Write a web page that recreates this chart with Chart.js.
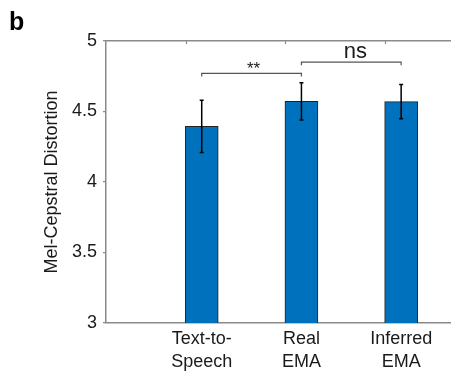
<!DOCTYPE html>
<html lang="en">
  <head>
    <meta charset="UTF-8" />
    <title>Mel-Cepstral Distortion</title>
    <script src="https://cdn.jsdelivr.net/npm/chart.js"></script>
    <style>
      html, body { margin: 0; padding: 0; background: #fff; }
      #wrap { position: relative; width: 451px; height: 374px; }
    </style>
  </head>
  <body>
    <div id="wrap"><canvas id="mcdChart"></canvas></div>

    <script>
      // data
      const categories = [["Text-to-", "Speech"], ["Real", "EMA"], ["Inferred", "EMA"]];
      const barPositions = [1, 2, 3];
      const meanValues = [4.395, 4.572, 4.570];
      const errorValues = [0.185, 0.132, 0.122];
      const yTicks = [3, 3.5, 4, 4.5, 5];
      const topTicks = [0.84, 1.84, 2.84];

      // significance brackets
      const bracketPairs = [[0, 1], [1, 2]];
      const bracketHeights = [4.77, 4.85];
      const bracketLabels = ["**", "ns"];

      const textColor = "#1a1a1a";
      const axisColor = "#8a8a8a";
      const font = "'Liberation Sans', Arial, sans-serif";

      // error bars, brackets, inner top ticks and panel letter
      const extrasPlugin = {
        id: "extras",
        afterDatasetsDraw(chart) {
          const ctx = chart.ctx;
          const x = chart.scales.x;
          const y = chart.scales.y;
          const area = chart.chartArea;
          ctx.save();

          // error bars
          ctx.strokeStyle = "#000";
          ctx.lineWidth = 1.5;
          barPositions.forEach((p, i) => {
            const px = x.getPixelForValue(p);
            const top = y.getPixelForValue(meanValues[i] + errorValues[i]);
            const bot = y.getPixelForValue(meanValues[i] - errorValues[i]);
            ctx.beginPath();
            ctx.moveTo(px, top);
            ctx.lineTo(px, bot);
            ctx.moveTo(px - 2, top);
            ctx.lineTo(px + 2, top);
            ctx.moveTo(px - 2, bot);
            ctx.lineTo(px + 2, bot);
            ctx.stroke();
          });

          // brackets
          ctx.strokeStyle = "#555";
          ctx.lineWidth = 1.2;
          ctx.fillStyle = textColor;
          ctx.textAlign = "center";
          bracketPairs.forEach((pair, i) => {
            const x1 = x.getPixelForValue(barPositions[pair[0]]);
            const x2 = x.getPixelForValue(barPositions[pair[1]]);
            const by = y.getPixelForValue(bracketHeights[i]);
            ctx.beginPath();
            ctx.moveTo(x1, by + 3);
            ctx.lineTo(x1, by);
            ctx.lineTo(x2, by);
            ctx.lineTo(x2, by + 3);
            ctx.stroke();
            if (bracketLabels[i] === "**") {
              ctx.font = "17px " + font;
              ctx.textBaseline = "middle";
              ctx.fillText(bracketLabels[i], (x1 + x2) / 2 + 2, by - 4);
            } else {
              ctx.font = "22px " + font;
              ctx.textBaseline = "alphabetic";
              ctx.fillText(bracketLabels[i], (x1 + x2) / 2 + 4, by - 4);
            }
          });

          // inner ticks on the top border
          ctx.strokeStyle = axisColor;
          ctx.lineWidth = 1.2;
          topTicks.forEach((t) => {
            const px = Math.round(x.getPixelForValue(t)) + 0.5;
            ctx.beginPath();
            ctx.moveTo(px, area.top);
            ctx.lineTo(px, area.top + 3);
            ctx.stroke();
          });

          // panel letter
          ctx.fillStyle = "#000";
          ctx.font = "bold 25px " + font;
          ctx.textAlign = "left";
          ctx.textBaseline = "alphabetic";
          ctx.fillText("b", 9, 30);
          ctx.restore();
        },
      };

      const chart = new Chart(document.getElementById("mcdChart"), {
        type: "bar",
        data: {
          datasets: [
            {
              data: barPositions.map((p, i) => ({ x: p, y: meanValues[i] })),
              backgroundColor: "#0072BD",
              borderColor: "#222",
              borderWidth: 1,
              barThickness: 33,
            },
          ],
        },
        options: {
          responsive: true,
          maintainAspectRatio: false,
          animation: false,
          layout: { padding: { top: 41, left: 0, right: 0, bottom: 0 } },
          plugins: {
            legend: { display: false },
            tooltip: { enabled: false },
          },
          scales: {
            x: {
              type: "linear",
              position: "bottom",
              min: 0.04,
              max: 3.5,
              offset: false,
              afterBuildTicks: (scale) => {
                scale.ticks = barPositions.map((v) => ({ value: v }));
              },
              afterFit: (scale) => {
                scale.height = 51;
              },
              grid: { display: false, drawTicks: false },
              border: { display: true, color: axisColor, width: 1.5 },
              ticks: {
                color: textColor,
                font: { family: font, size: 18, lineHeight: 1.3 },
                padding: 4,
                maxRotation: 0,
                autoSkip: false,
                callback: (v, i) => categories[i],
              },
            },
            xTop: {
              type: "linear",
              position: "top",
              min: 0.04,
              max: 3.5,
              afterFit: (scale) => {
                scale.height = 0;
              },
              grid: { display: false, drawTicks: false },
              border: { display: true, color: axisColor, width: 1.5 },
              ticks: { display: false },
            },
            y: {
              min: 3,
              max: 5,
              afterBuildTicks: (scale) => {
                scale.ticks = yTicks.map((v) => ({ value: v }));
              },
              afterFit: (scale) => {
                scale.width = 106;
              },
              grid: {
                drawOnChartArea: false,
                drawTicks: true,
                tickLength: 3,
                color: axisColor,
                lineWidth: 1.2,
              },
              border: { display: true, color: axisColor, width: 1.5 },
              ticks: {
                color: textColor,
                font: { family: font, size: 18 },
                padding: 6,
                callback: (v) => String(v),
              },
              title: {
                display: true,
                text: "Mel-Cepstral Distortion",
                color: textColor,
                font: { family: font, size: 18 },
                padding: { top: 41, bottom: 0 },
              },
            },
          },
        },
        plugins: [extrasPlugin],
      });
    </script>
  </body>
</html>
